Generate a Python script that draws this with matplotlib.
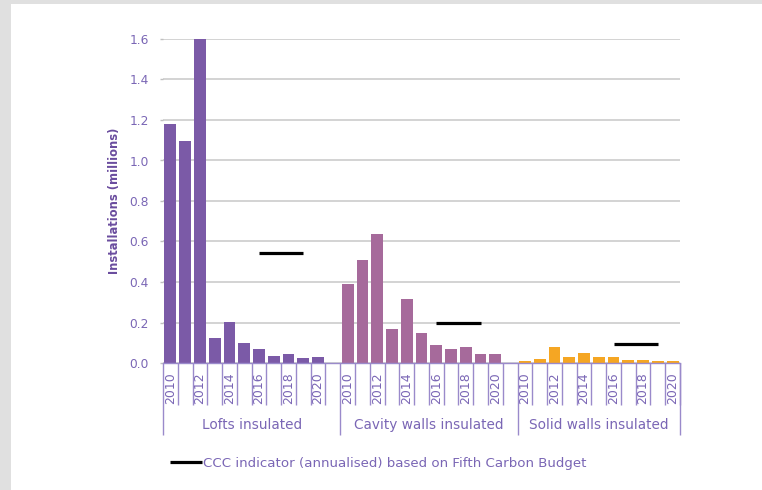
import matplotlib

matplotlib.use("Agg")
import matplotlib.pyplot as plt
import matplotlib.transforms as mtransforms
from matplotlib.patches import Rectangle

# Данные (млн установок)
years = [2010, 2011, 2012, 2013, 2014, 2015, 2016, 2017, 2018, 2019, 2020]
groups = ["Lofts insulated", "Cavity walls insulated", "Solid walls insulated"]
lofts = [1.18, 1.095, 1.60, 0.125, 0.204, 0.100, 0.068, 0.036, 0.043, 0.023, 0.028]
cavity = [0.390, 0.510, 0.636, 0.168, 0.316, 0.148, 0.089, 0.069, 0.079, 0.044, 0.044]
solid = [0.010, 0.021, 0.080, 0.030, 0.048, 0.030, 0.030, 0.016, 0.016, 0.010, 0.008]
ccc_values = [0.545, 0.200, 0.093]
ccc_years = (2016, 2019)
legend_label = "CCC indicator (annualised) based on Fifth Carbon Budget"

colors = ["#7B5AA7", "#A66A9B", "#F5A623"]
text_purple = "#7A66B5"
label_purple = "#6A4C9E"
line_purple = "#9A8ACB"

plt.rcParams["font.family"] = ["DejaVu Sans"]

fig = plt.figure(figsize=(7.62, 4.90), dpi=100)
fig.patch.set_facecolor("#E0E0E0")
# белая панель
fig.patches.append(
    Rectangle((11 / 762, 0), 1, 1 - 4 / 490, transform=fig.transFigure,
              facecolor="white", edgecolor="none", zorder=-5)
)

ax = fig.add_axes([163 / 762, 1 - 363 / 490, 517 / 762, 324 / 490])
ax.set_facecolor("none")
ax.set_zorder(2)

n = len(years)
step = n + 1  # пустой слот между группами
series = [lofts, cavity, solid]
for g, values in enumerate(series):
    offset = g * step
    xs = [offset + i for i in range(n)]
    ax.bar(xs, values, width=0.8, color=colors[g], zorder=2)

# Индикатор CCC
ccc_line = None
for g, val in enumerate(ccc_values):
    offset = g * step
    x0 = offset + years.index(ccc_years[0])
    x1 = offset + years.index(ccc_years[1])
    ccc_line, = ax.plot([x0, x1], [val, val], color="black", linewidth=2.3,
                        solid_capstyle="butt", zorder=3)

total = step * len(groups) - 1
ax.set_xlim(-0.5, total - 0.5)
ax.set_ylim(0, 1.6)
ax.set_yticks([i * 0.2 for i in range(9)])
ax.set_yticklabels([f"{i * 0.2:.1f}" for i in range(9)])
ax.tick_params(axis="y", colors="#C0C0C0", length=2, width=1, pad=8,
               labelcolor=text_purple, labelsize=8.8)
ax.yaxis.grid(True, color="#C8C8C8", linewidth=1.1, zorder=0)
ax.set_axisbelow(True)
ax.set_xticks([])
for side in ["top", "right", "left"]:
    ax.spines[side].set_visible(False)
ax.spines["bottom"].set_color(line_purple)
ax.spines["bottom"].set_linewidth(1.0)

ax.set_ylabel("Installations (millions)", color=label_purple, fontsize=8.3,
              fontweight="bold")
ax.yaxis.set_label_coords(-0.081, 0.5)

# Многоуровневая ось категорий
trans = mtransforms.blended_transform_factory(ax.transData, ax.transAxes)
seps = [g * step - 0.5 for g in range(len(groups))] + [total - 0.5]
for g, name in enumerate(groups):
    offset = g * step
    short = [offset + i + 0.5 for i in range(n)]
    ax.vlines(short, -0.13, 0, transform=trans, color=line_purple,
              linewidth=1.0, clip_on=False)
    for i, yr in enumerate(years):
        if yr % 2 == 0:
            ax.text(offset + i, -0.028, str(yr), transform=trans, rotation=90,
                    ha="center", va="top", fontsize=9, color=text_purple)
    ax.text((seps[g] + seps[g + 1]) / 2, -0.19, name, transform=trans,
            ha="center", va="center", fontsize=9.8, color=text_purple)
ax.vlines(seps, -0.222, 0, transform=trans, color=line_purple, linewidth=1.0,
          clip_on=False)

leg = fig.legend([ccc_line], [legend_label], loc="center left",
                 bbox_to_anchor=(170 / 762, 1 - 463 / 490), frameon=False,
                 fontsize=9.6, handlelength=2.4, handletextpad=0.1,
                 borderaxespad=0, borderpad=0)
for t in leg.get_texts():
    t.set_color(text_purple)

fig.savefig("out.png", dpi=100, facecolor=fig.get_facecolor())
plt.close(fig)
